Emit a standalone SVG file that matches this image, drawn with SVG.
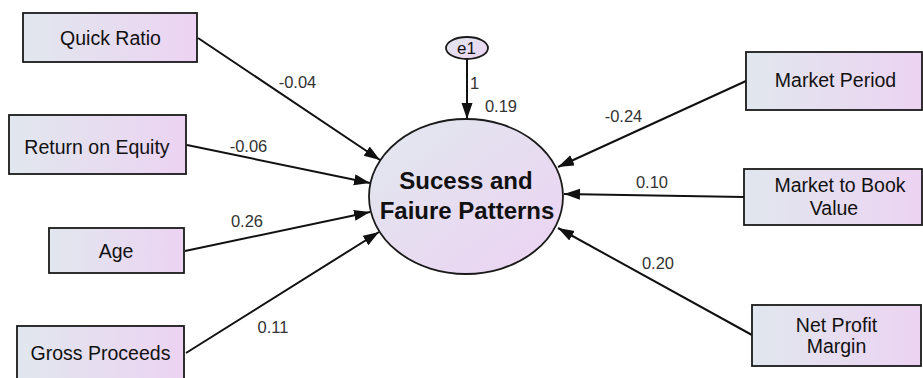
<svg xmlns="http://www.w3.org/2000/svg" width="923" height="378" viewBox="0 0 923 378">
<defs>
<linearGradient id="gBox" x1="0" y1="0" x2="1" y2="0">
<stop offset="0" stop-color="#e1e7ee"/>
<stop offset="1" stop-color="#ecd3f2"/>
</linearGradient>
<linearGradient id="gEll" x1="0" y1="0" x2="1" y2="1">
<stop offset="0" stop-color="#e1e8ee"/>
<stop offset="1" stop-color="#ecd2f3"/>
</linearGradient>
<marker id="arr" markerUnits="userSpaceOnUse" markerWidth="17" markerHeight="12" refX="16" refY="5.5" orient="auto">
<path d="M0,0 L16,5.5 L0,11 z" fill="#111"/>
</marker>
<style>
.box{fill:url(#gBox);stroke:#1a1a1a;stroke-width:1.8}
.ell{fill:url(#gEll);stroke:#1a1a1a;stroke-width:1.8}
.lbl{font-family:"Liberation Sans",Arial,sans-serif;font-size:19.5px;fill:#111;text-anchor:middle}
.big{font-family:"Liberation Sans",Arial,sans-serif;font-size:24px;font-weight:bold;fill:#111;text-anchor:middle}
.coef{font-family:"Liberation Sans",Arial,sans-serif;font-size:16.5px;fill:#333;text-anchor:middle}
.con{stroke:#111;stroke-width:2;fill:none;marker-end:url(#arr)}
</style>
</defs>
<rect width="923" height="378" fill="#ffffff"/>
<g id="connectors">
<line class="con" x1="198" y1="38" x2="380" y2="160"/>
<line class="con" x1="187" y1="145" x2="370" y2="183"/>
<line class="con" x1="185" y1="251" x2="370" y2="212"/>
<line class="con" x1="186" y1="353" x2="379" y2="232"/>
<line class="con" x1="746" y1="81" x2="558" y2="167"/>
<line class="con" x1="744" y1="197" x2="564" y2="194"/>
<line class="con" x1="752" y1="335" x2="558" y2="228"/>
<line class="con" x1="467" y1="59" x2="467" y2="119"/>
<text class="coef" x="297.5" y="88">-0.04</text>
<text class="coef" x="248.5" y="151.5">-0.06</text>
<text class="coef" x="247" y="226.5">0.26</text>
<text class="coef" x="273" y="332.5">0.11</text>
<text class="coef" x="623.5" y="122">-0.24</text>
<text class="coef" x="652" y="188">0.10</text>
<text class="coef" x="658" y="269">0.20</text>
<text class="coef" x="474.5" y="89">1</text>
<text class="coef" x="501" y="111.5">0.19</text>
</g>
<g id="quick-ratio">
<rect class="box" x="23" y="13" width="174" height="49"/>
<text class="lbl" x="110.5" y="45">Quick Ratio</text>
</g>
<g id="return-on-equity">
<rect class="box" x="9" y="115" width="177" height="59"/>
<text class="lbl" x="97" y="154">Return on Equity</text>
</g>
<g id="age">
<rect class="box" x="49" y="228" width="135" height="45"/>
<text class="lbl" x="116" y="258">Age</text>
</g>
<g id="gross-proceeds">
<rect class="box" x="17" y="326" width="167" height="60"/>
<text class="lbl" x="100.5" y="360">Gross Proceeds</text>
</g>
<g id="market-period">
<rect class="box" x="746" y="52" width="176" height="58"/>
<text class="lbl" x="835.5" y="87">Market Period</text>
</g>
<g id="market-to-book">
<rect class="box" x="744" y="169" width="178" height="56"/>
<text class="lbl" x="840" y="192">Market to Book</text>
<text class="lbl" x="834" y="215">Value</text>
</g>
<g id="net-profit-margin">
<rect class="box" x="752" y="305" width="169" height="61"/>
<text class="lbl" x="836.5" y="331.5">Net Profit</text>
<text class="lbl" x="836.5" y="352.5">Margin</text>
</g>
<g id="e1">
<ellipse class="ell" cx="467" cy="48" rx="21" ry="11"/>
<text class="lbl" style="font-size:17px" x="466.5" y="54">e1</text>
</g>
<g id="success-failure">
<ellipse class="ell" cx="466" cy="196.5" rx="97" ry="77.5"/>
<text class="big" x="466" y="189.3">Sucess and</text>
<text class="big" x="467" y="219.3">Faiure Patterns</text>
</g>
</svg>
